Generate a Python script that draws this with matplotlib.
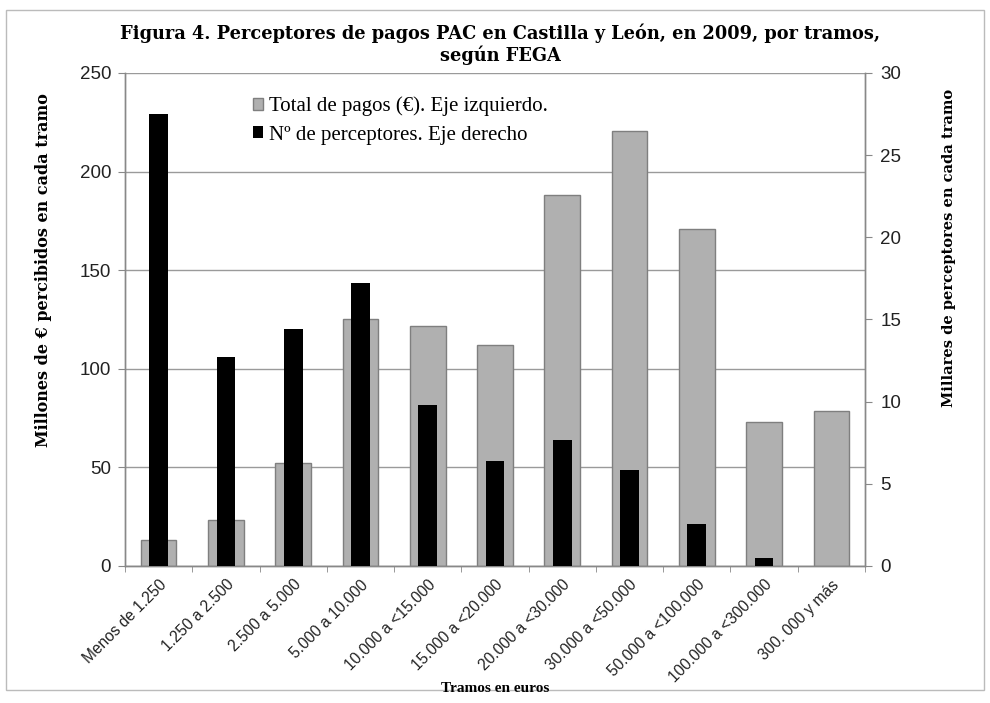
import matplotlib.pyplot as plt
import numpy as np
from matplotlib.patches import Rectangle

# Tramos de pagos PAC (euros)
tramos = ['Menos de 1.250', '1.250 a 2.500', '2.500 a 5.000', '5.000 a 10.000',
          '10.000 a <15.000', '15.000 a <20.000', '20.000 a <30.000',
          '30.000 a <50.000', '50.000 a <100.000', '100.000 a <300.000',
          '300. 000 y más']
# millones de euros (eje izquierdo)
pagos = [13.3, 23.1, 52.4, 125.0, 121.7, 112.0, 188.0, 220.8, 170.8, 73.2, 78.8]
# miles de perceptores (eje derecho)
perceptores = [27.5, 12.7, 14.4, 17.2, 9.8, 6.4, 7.65, 5.85, 2.55, 0.47, 0.0]

titulo = 'Figura 4. Perceptores de pagos PAC en Castilla y León, en 2009, por tramos,\nsegún FEGA'

sans = ['Liberation Sans', 'DejaVu Sans']
serif = ['Liberation Serif', 'DejaVu Serif']
spaced = ['DejaVu Serif']

fig = plt.figure(figsize=(9.9, 7.03), dpi=100)
ax = fig.add_axes([0.1263, 0.1949, 0.7474, 0.7013])
ax2 = ax.twinx()

x = np.arange(len(tramos))
b1 = ax.bar(x, pagos, width=0.53, color='#b0b0b0', edgecolor='#7f7f7f',
            linewidth=1.0, zorder=2, label='Total de pagos (€). Eje izquierdo.')
b2 = ax2.bar(x, perceptores, width=0.28, color='black', zorder=3,
             label='Nº de perceptores. Eje derecho')

ax.set_xlim(-0.5, len(tramos) - 0.5)
ax.set_ylim(0, 250)
ax2.set_ylim(0, 30)
ax.set_yticks(np.arange(0, 251, 50))
ax2.set_yticks(np.arange(0, 31, 5))
ax.grid(axis='y', color='#9a9a9a', linewidth=1.0, zorder=0)
ax.set_axisbelow(True)

ax.set_xticks(x)
ax.set_xticklabels(tramos, rotation=45, ha='right', va='top',
                   rotation_mode='anchor', family=sans, fontsize=11.2, color='#222222')
ax.set_xticks(np.arange(-0.5, len(tramos), 1), minor=True)
ax.tick_params(axis='x', which='major', length=0, pad=8)
ax.tick_params(axis='x', which='minor', length=4, color='#888888')
ax.tick_params(axis='y', length=5, color='#888888', labelsize=13.5, labelcolor='#222222', pad=5)
ax2.tick_params(axis='y', length=5, color='#888888', labelsize=13.5, labelcolor='#222222', pad=6)
for lab in ax.get_yticklabels() + ax2.get_yticklabels():
    lab.set_family(sans)

for a in (ax, ax2):
    for s in a.spines.values():
        s.set_color('#888888')
        s.set_linewidth(1.0)
    a.spines['top'].set_visible(False)

ax.set_ylabel('Millones de € percibidos en cada tramo', family=spaced,
              fontweight='bold', fontsize=11.5)
ax.yaxis.set_label_coords(-0.099, 0.6)
ax2.set_ylabel('Millares de perceptores en cada tramo', family=spaced,
               fontweight='bold', fontsize=10.5)
ax2.yaxis.set_label_coords(1.104, 0.645)

fig.text(0.505, 0.967, titulo, ha='center', va='top', family=spaced,
         fontweight='bold', fontsize=12.8, linespacing=1.15)
fig.text(0.5, 0.011, 'Tramos en euros', ha='center', va='bottom', family=serif,
         fontweight='bold', fontsize=11)

leg = ax2.legend(handles=[b1, b2], loc='upper left', bbox_to_anchor=(0.147, 0.99),
                 frameon=False, prop={'family': serif, 'size': 15},
                 handlelength=0.5, handleheight=0.5, handletextpad=0.3,
                 labelspacing=0.45)

# marco de la figura
fig.patches.append(Rectangle((0.006, 0.018), 0.988, 0.968, transform=fig.transFigure,
                             fill=False, edgecolor='#bbbbbb', linewidth=1.0))

plt.savefig('out.png', dpi=100)
